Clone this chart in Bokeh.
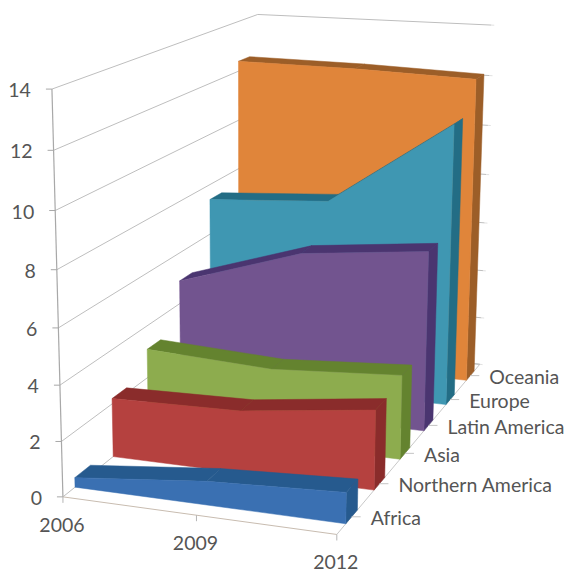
import numpy as np
from bokeh.core.properties import value
from bokeh.embed import file_html
from bokeh.models import Range1d
from bokeh.plotting import figure
from bokeh.resources import INLINE

years = ["2006", "2009", "2012"]
regions = ["Africa", "Northern America", "Asia", "Latin America", "Europe", "Oceania"]
africa = [0.35, 0.85, 1.1]
northern_america = [2.2, 2.3, 2.9]
asia = [3.1, 2.85, 3.15]
latin_america = [4.9, 6.4, 6.9]
europe = [7.4, 7.7, 11.0]
oceania = [12.4, 12.35, 12.2]
series = [africa, northern_america, asia, latin_america, europe, oceania]
value_ticks = [0, 2, 4, 6, 8, 10, 12, 14]

front_colors = ["#3A70B2", "#B5413F", "#8DAC4E", "#72548F", "#3F97B2", "#E0853A"]
dark_colors = ["#265A8E", "#8A2C2B", "#64832F", "#4A3570", "#236D85", "#9C5E28"]

# Camera for the 3-D box: (across, depth, height) -> page position.
anchors = [
    (0, 0, 14, 52, 89), (0, 0, 12, 52.5, 150), (0, 0, 10, 54, 210), (0, 0, 8, 56, 268),
    (0, 0, 6, 58, 327), (0, 0, 4, 60, 385), (0, 0, 2, 61, 441), (0, 0, 0, 63, 497),
    (1, 0, 0, 336, 534), (1, 1, 0, 479, 365), (1, 1, 2, 481, 316), (1, 1, 4, 483, 270),
    (1, 1, 6, 484, 222), (1, 1, 8, 485, 174), (1, 1, 10, 487, 125), (1, 1, 14, 492, 25),
    (0, 1, 14, 257, 14),
]
rows, rhs = [], []
for a, d, h, px, py in anchors:
    rows.append([a, d, h, 1, 0, 0, 0, 0, -px * a, -px * d, -px * h])
    rhs.append(px)
    rows.append([0, 0, 0, 0, a, d, h, 1, -py * a, -py * d, -py * h])
    rhs.append(py)
camera = np.append(np.linalg.lstsq(np.array(rows, float), np.array(rhs, float), rcond=None)[0], 1).reshape(3, 4)


def project(a, d, h):
    u, v, w = camera @ np.array([a, d, h, 1.0])
    return u / w, v / w


def poly(points):
    xy = [project(*pt) for pt in points]
    return [q[0] for q in xy], [q[1] for q in xy]


p = figure(width=568, height=572, output_backend="svg", toolbar_location=None,
           x_range=Range1d(0, 568), y_range=Range1d(572, 0), min_border=0)
p.axis.visible = False
p.grid.visible = False
p.outline_line_color = None

GRID = "#BEBEBE"
FONT = value("Lato")
SIZE = "19.5px"
TEXT = "#555555"


def seg(points, color=GRID, width=1.0):
    xs, ys = poly(points)
    p.line(xs, ys, line_color=color, line_width=width)


# Walls, floor and tick marks
for t in value_ticks:
    seg([(0, 0, t), (0, 1, t), (1, 1, t)])
    seg([(1, 1, t), (1.012, 1, t)], "#E2E2E2")
    x0, y0 = project(0, 0, t)
    p.line([x0 - 6, x0], [y0, y0], line_color="#A8A8A8", line_width=1)
seg([(0, 0, 0), (0, 0, 14)], "#A8A8A8", 1.2)
seg([(0, 0, 0), (1, 0, 0)], "#C8BCB0")
seg([(1, 0, 0), (1, 1, 0)], "#C8C8C8")
seg([(0, 1, 0), (1, 1, 0)])

for i, year in enumerate(years):
    a = i / (len(years) - 1)
    x0, y0 = project(a, 0, 0)
    p.line([x0, x0], [y0, y0 + 6], line_color="#B5B5B5", line_width=1)
    p.text([x0 - 1], [y0 + 28], text=[year], text_font=FONT, text_font_size=SIZE,
           text_color=TEXT, text_align="center", text_baseline="middle")

for t in value_ticks:
    x0, y0 = project(0, 0, t)
    p.text([x0 - 21], [y0 + 1], text=[str(t)], text_font=FONT, text_font_size=SIZE,
           text_color=TEXT, text_align="right", text_baseline="middle")

# One extruded band per region, painted from the back row to the front row
for k in range(len(regions) - 1, -1, -1):
    vals = series[k]
    n = len(vals)
    across = [i / (n - 1) for i in range(n)]
    zf, zb = (k + 0.3) / 6, (k + 0.7) / 6
    for i in range(n - 1):
        xs, ys = poly([(across[i], zf, vals[i]), (across[i], zb, vals[i]),
                       (across[i + 1], zb, vals[i + 1]), (across[i + 1], zf, vals[i + 1])])
        p.patch(xs, ys, fill_color=dark_colors[k], line_color=dark_colors[k], line_width=0.5)
    xs, ys = poly([(1, zf, vals[-1]), (1, zb, vals[-1]), (1, zb, 0), (1, zf, 0)])
    p.patch(xs, ys, fill_color=dark_colors[k], line_color=dark_colors[k], line_width=0.5)
    outline = [(a, zf, v) for a, v in zip(across, vals)] + [(1, zf, 0), (0, zf, 0)]
    xs, ys = poly(outline)
    p.patch(xs, ys, fill_color=front_colors[k], line_color=front_colors[k], line_width=0.5)

# Region names beside the depth axis
for k, name in enumerate(regions):
    z = (k + 0.5) / 6
    x0, y0 = project(1, z, 0)
    p.line([x0, x0 + 9], [y0, y0], line_color="#C4C4C4", line_width=1)
    p.text([x0 + 19], [y0 + 1], text=[name], text_font=FONT, text_font_size=SIZE,
           text_color=TEXT, text_align="left", text_baseline="middle")

open("out.html", "w").write(file_html(p, INLINE))
